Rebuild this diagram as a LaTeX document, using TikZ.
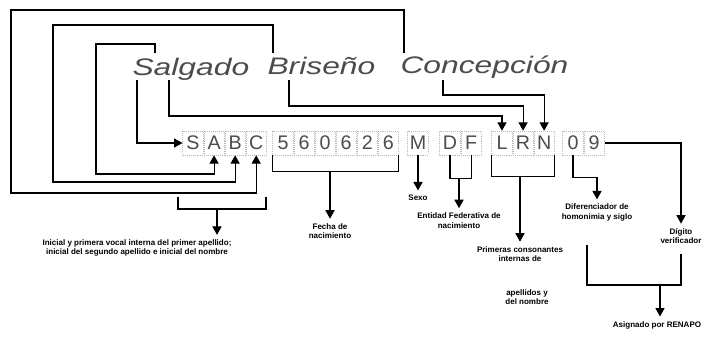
\documentclass[tikz,border=0pt]{standalone}
\usepackage{fontspec}
\setmainfont{Liberation Sans}
\newfontfamily\titlefont[FakeStretch=1.33]{Liberation Sans}
\usetikzlibrary{arrows.meta, positioning, calc}

\begin{document}
\begin{tikzpicture}[
    x=0.025cm, y=-0.025cm,
    >={Triangle[width=6.5pt,length=6pt]},
    line width=0.75pt,
    cell/.style={draw=gray!55, densely dotted, line width=0.4pt, minimum width=0.5125cm, minimum height=0.6cm, inner sep=0pt, text=black!70, font=\fontsize{14}{15}\selectfont},
    word/.style={anchor=base west, inner sep=0pt, text=black!70, font=\titlefont\itshape\fontsize{17}{20}\selectfont},
    note/.style={align=center, inner sep=3pt, font=\bfseries\fontsize{5.7}{6.6}\selectfont}
]
\useasboundingbox (0,0) rectangle (706,337);

% nombre completo
\node (salgado) [word] at (132,75) {Salgado};
\node (briseno) [word] at (267,74) {Briseño};
\node (concep) [word] at (400,73) {Concepción};

\coordinate (pS) at (137,80);
\coordinate (pA) at (155,53);
\coordinate (pL) at (169,80);
\coordinate (pB) at (273,53);
\coordinate (pR) at (289,80);
\coordinate (pC) at (404,53);
\coordinate (pN) at (443,80);

% clave
\node (S) at (193,143) [cell] {S};
\node (A) [right=0pt of S, cell] {A};
\node (B) [right=0pt of A, cell] {B};
\node (C) [right=0pt of B, cell] {C};

\node (d1) at (283,143) [cell] {5};
\node (d2) [right=0pt of d1, cell] {6};
\node (d3) [right=0pt of d2, cell] {0};
\node (d4) [right=0pt of d3, cell] {6};
\node (d5) [right=0pt of d4, cell] {2};
\node (d6) [right=0pt of d5, cell] {6};

\node (M) at (418,143) [cell] {M};

\node (D) at (450,143) [cell] {D};
\node (F) [right=0pt of D, cell] {F};

\node (L) at (502,143) [cell] {L};
\node (R) [right=0pt of L, cell] {R};
\node (N) [right=0pt of R, cell] {N};

\node (h0) at (573,143) [cell] {0};
\node (h9) [right=0pt of h0, cell] {9};

% del nombre a la clave
\draw[->] (pS) |- (S.west);
\draw[->] (pA) -- (155,44) -| (96,174) -| (A.south);
\draw[->] (pB) -- (273,25) -| (53,182) -| (B.south);
\draw[->] (pC) -- (404,10) -| (11,193) -| (C.south);
\draw[->] (pL) -- (169,116) -| (L.north);
\draw[->] (pR) -- (289,106) -| (R.north);
\draw[->] (pN) -- (443,95) -| (N.north);

% descripciones
\node (sabctxt) at (137,248) [note] {Inicial y primera vocal interna del primer apellido;\\inicial del segundo apellido e inicial del nombre};
\node (fecha) at (330,231) [note] {Fecha de\\nacimiento};
\node (sexo) at (418,198) [note] {Sexo};
\node (entidad) at (459,220.5) [note] {Entidad Federativa de\\nacimiento};
\node (primeras) at (520,254) [note] {Primeras consonantes\\internas de};
\node (apellidos) at (527,297) [note] {apellidos y\\del nombre};
\node (difer) at (597,212.5) [note] {Diferenciador de\\homonimia y siglo};
\node (digito) at (681,236) [note] {Dígito\\verificador};
\node (asignado) at (657,325) [note] {Asignado por RENAPO};

\draw (178,197) |- (266,209) -- (266,197);
\coordinate (sabcmid) at (217,209);
\draw[->] (sabcmid) -- (sabcmid |- sabctxt.north);

\draw (d1.south west) -- ++(0,16) -| (d6.south east);
\coordinate (datemid) at (330,171);
\draw[->] (datemid) -- (fecha.north);

\draw[->] (M.south) -- (sexo.north);

\draw (D.south) -- ++(0,23) -| (F.south);
\coordinate (dfmid) at (459,178);
\draw[->] (dfmid) -- (entidad.north);

\draw (L.south west) -- ++(0,21) -| (N.south east);
\coordinate (lrnmid) at (520,176);
\draw[->] (lrnmid) -- (primeras.north);

\draw[->] (h0.south) -- ++(0,22) -| (difer.north);
\draw[->] (h9.east) -| (digito.north);

\draw (587,245) |- (681,285) -- (681,254);
\coordinate (renmid) at (660,285);
\draw[->] (renmid) -- (asignado.north -| renmid);

\end{tikzpicture}
\end{document}
